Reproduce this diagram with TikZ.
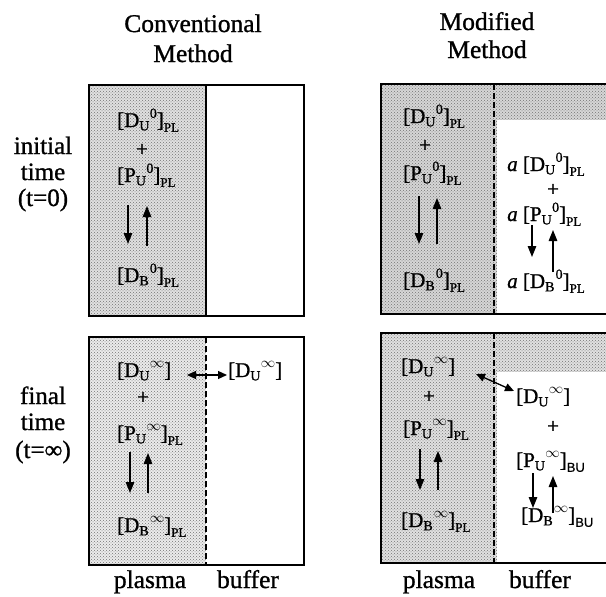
\documentclass[tikz,border=0pt]{standalone}
\usepackage{fontspec}
\setmainfont{Liberation Serif}[FakeBold=1.0]
\newfontfamily\sansf{Liberation Sans}[FakeBold=0.6]
\usetikzlibrary{arrows.meta,patterns}

% concentration [X_sub^sup]_region
\newcommand\subsz{\fontsize{14}{14}\selectfont}
\newcommand\regsz{\fontsize{13}{13}\selectfont}
\newcommand\cc[4]{[#1\rlap{\raisebox{-0.35ex}{\subsz #2}}\hspace{0.5em}\raisebox{0.95ex}{\subsz #3}]\raisebox{-0.5ex}{\regsz #4}}

\begin{document}
\begin{tikzpicture}[x=1pt,y=-1pt,
  lbl/.style={inner sep=0pt,anchor=base,font=\fontsize{25.5}{25.5}\selectfont},
  rowlbl/.style={inner sep=0pt,anchor=base,font=\fontsize{25}{25}\selectfont},
  sp/.style={inner sep=0pt,anchor=base west,font=\fontsize{21}{21}\selectfont},
  plus/.style={inner sep=0pt,anchor=center,font=\fontsize{21}{21}\selectfont},
  frame/.style={line width=1.7pt},
  solidwall/.style={line width=1.3pt},
  dashwall/.style={line width=1.4pt,dash pattern=on 6pt off 3pt},
  stipple/.style={pattern=crosshatch dots,pattern color=black!55},
  rxn/.style={line width=1.3pt,-{Triangle[length=11pt,width=8.5pt]}},
  xch/.style={line width=1.3pt,{Triangle[length=9pt,width=8pt]}-{Triangle[length=9pt,width=8pt]}}]

\useasboundingbox (0,0) rectangle (606,597);
\fill[white] (0,0) rectangle (606,597);

% column headers
\node[lbl] (convA) at (193,32) {Conventional};
\node[lbl] (convB) at (193,62) {Method};
\node[lbl] (modA) at (487,30) {Modified};
\node[lbl] (modB) at (487,58) {Method};

% row headers
\node[rowlbl] (iniA) at (43,154) {initial};
\node[rowlbl] (iniB) at (43,180) {time};
\node[rowlbl] (iniC) at (43,206) {(t=0)};
\node[rowlbl] (finA) at (43,404) {final};
\node[rowlbl] (finB) at (43,430) {time};
\node[rowlbl] (finC) at (43,458) {(t=∞)};

% compartment names
\node[lbl] (plA) at (150,588) {plasma};
\node[lbl] (buA) at (248,588) {buffer};
\node[lbl] (plB) at (439,588) {plasma};
\node[lbl] (buB) at (540,588) {buffer};

% ---------- conventional, t = 0 ----------
\fill[black!12] (89,85) rectangle (206,316);
\fill[stipple] (89,85) rectangle (206,316);
\draw[frame] (89,85) rectangle (304,316);
\draw[solidwall] (206,85) -- (206,316);
\node[sp] (c0du) at (117,127) {\cc{D}{U}{0}{PL}};
\node[plus] (c0p) at (142,150) {+};
\node[sp] (c0pu) at (117,182) {\cc{P}{U}{0}{PL}};
\node[sp] (c0db) at (117,282) {\cc{D}{B}{0}{PL}};
\coordinate (c0a1) at (128,205); \coordinate (c0a2) at (128,244);
\coordinate (c0b1) at (147,246); \coordinate (c0b2) at (147,206);
\draw[rxn] (c0a1) -- (c0a2);
\draw[rxn] (c0b1) -- (c0b2);

% ---------- conventional, t = infinity ----------
\fill[black!8] (89,337) rectangle (206,565);
\fill[stipple] (89,337) rectangle (206,565);
\draw[frame] (89,337) rectangle (304,565);
\draw[dashwall] (206,337) -- (206,565);
\node[sp] (c1du) at (117,377) {\cc{D}{U}{$\infty$}{}};
\node[sp] (c1bu) at (228,377) {\cc{D}{U}{$\infty$}{}};
\node[plus] (c1p) at (143,398) {+};
\node[sp] (c1pu) at (117,440) {\cc{P}{U}{$\infty$}{PL}};
\node[sp] (c1db) at (117,532) {\cc{D}{B}{$\infty$}{PL}};
\coordinate (c1x1) at (187,375); \coordinate (c1x2) at (227,375);
\draw[xch] (c1x1) -- (c1x2);
\coordinate (c1a1) at (130,452); \coordinate (c1a2) at (130,493);
\coordinate (c1b1) at (148,493); \coordinate (c1b2) at (148,453);
\draw[rxn] (c1a1) -- (c1a2);
\draw[rxn] (c1b1) -- (c1b2);

% ---------- modified, t = 0 ----------
\fill[black!16] (381,84) rectangle (610,314);
\fill[stipple] (381,84) rectangle (610,314);
\fill[white] (497,120) rectangle (610,314);
\draw[frame] (610,84) -- (381,84) -- (381,314) -- (610,314);
\draw[dashwall] (494,84) -- (494,314);
\node[sp] (m0du) at (403,123) {\cc{D}{U}{0}{PL}};
\node[plus] (m0p) at (425,146) {+};
\node[sp] (m0pu) at (403,180) {\cc{P}{U}{0}{PL}};
\node[sp] (m0db) at (403,287) {\cc{D}{B}{0}{PL}};
\coordinate (m0a1) at (419,196); \coordinate (m0a2) at (419,244);
\coordinate (m0b1) at (437,244); \coordinate (m0b2) at (437,198);
\draw[rxn] (m0a1) -- (m0a2);
\draw[rxn] (m0b1) -- (m0b2);
\node[sp] (m0du2) at (507,171) {\textit{a} \cc{D}{U}{0}{PL}};
\node[plus] (m0p2) at (553,190) {+};
\node[sp] (m0pu2) at (507,221) {\textit{a} \cc{P}{U}{0}{PL}};
\node[sp] (m0db2) at (507,288) {\textit{a} \cc{D}{B}{0}{PL}};
\coordinate (m0c1) at (532,225); \coordinate (m0c2) at (532,257);
\coordinate (m0d1) at (553,272); \coordinate (m0d2) at (553,230);
\draw[rxn] (m0c1) -- (m0c2);
\draw[rxn] (m0d1) -- (m0d2);

% ---------- modified, t = infinity ----------
\fill[black!12] (381,333) rectangle (610,563);
\fill[stipple] (381,333) rectangle (610,563);
\fill[white] (497,372) rectangle (610,563);
\draw[frame] (610,333) -- (381,333) -- (381,563) -- (610,563);
\draw[dashwall] (494,333) -- (494,563);
\node[sp] (m1du) at (401,373) {\cc{D}{U}{$\infty$}{}};
\node[plus] (m1p) at (429,397) {+};
\node[sp] (m1pu) at (403,435) {\cc{P}{U}{$\infty$}{PL}};
\node[sp] (m1db) at (401,527) {\cc{D}{B}{$\infty$}{PL}};
\coordinate (m1a1) at (420,449); \coordinate (m1a2) at (420,490);
\coordinate (m1b1) at (438,490); \coordinate (m1b2) at (438,451);
\draw[rxn] (m1a1) -- (m1a2);
\draw[rxn] (m1b1) -- (m1b2);
\node[sp] (m1du2) at (516,403) {\cc{D}{U}{$\infty$}{}};
\node[plus] (m1p2) at (553,427) {+};
\node[sp] (m1pu2) at (516,467) {\cc{P}{U}{$\infty$}{{\sansf BU}}};
\node[sp] (m1db2) at (521,522) {\cc{D}{B}{$\infty$}{{\sansf BU}}};
\coordinate (m1x1) at (476,374); \coordinate (m1x2) at (514,391);
\draw[xch] (m1x1) -- (m1x2);
\coordinate (m1c1) at (533,473); \coordinate (m1c2) at (533,508);
\coordinate (m1d1) at (553,513); \coordinate (m1d2) at (553,476);
\draw[rxn] (m1c1) -- (m1c2);
\draw[rxn] (m1d1) -- (m1d2);
\end{tikzpicture}
\end{document}
